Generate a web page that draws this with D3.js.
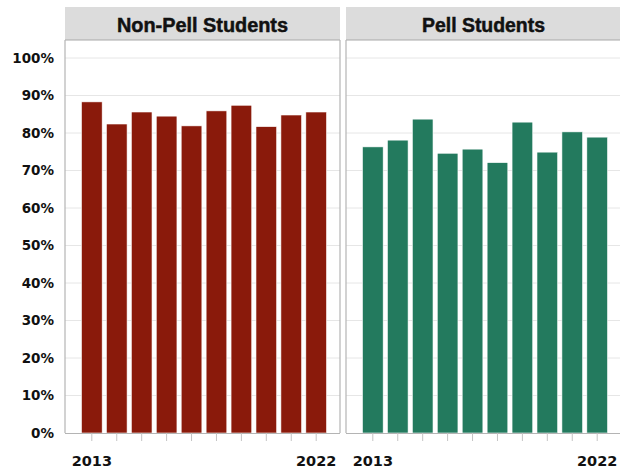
<!DOCTYPE html>
<html><head><meta charset="utf-8">
<script src="https://cdn.jsdelivr.net/npm/d3@7"></script>
<style>body{margin:0;background:#fff}</style>
</head><body>
<svg id="c" width="620" height="471"></svg>
<script>
const years = ["2013","2014","2015","2016","2017","2018","2019","2020","2021","2022"];
const panels = ["Non-Pell Students","Pell Students"];
const nonPell = [0.883,0.824,0.856,0.845,0.819,0.859,0.874,0.817,0.848,0.856];
const pell = [0.763,0.781,0.837,0.746,0.757,0.721,0.829,0.749,0.803,0.789];
const yTicks = [0,0.1,0.2,0.3,0.4,0.5,0.6,0.7,0.8,0.9,1.0];
const xLabels = ["2013","2022"];
const colors = ["#8a1a0b","#237a5e"];

(function(){
const svg = d3.select("#c");
const plotTop = 40, plotBottom = 433, headTop = 7;
const panelX = [65, 346], panelW = 275;
const y = d3.scaleLinear().domain([0,1]).range([plotBottom, plotBottom-375]);

[nonPell, pell].forEach((vals, i) => {
  const x0 = panelX[i];
  const g = svg.append("g");
  const x = d3.scaleBand().domain(years).range([x0+4, x0+274]).paddingInner(0.17).paddingOuter(0.5);
  g.append("rect").attr("x", x0).attr("y", headTop).attr("width", panelW).attr("height", plotTop-headTop)
    .attr("fill", "#dcdcdc");
  g.append("line").attr("x1", x0).attr("x2", x0+panelW).attr("y1", plotTop).attr("y2", plotTop)
    .attr("stroke", "#a8a8a8").attr("stroke-width", 1.2);
  g.append("text").attr("x", x0+panelW/2).attr("y", 32).attr("text-anchor","middle")
    .attr("font-family","Liberation Sans, Arial").attr("font-weight","bold")
    .attr("font-size", 20).attr("fill","#111").attr("stroke","#111").attr("stroke-width",0.5)
    .attr("textLength", i===0?171:123).attr("lengthAdjust","spacingAndGlyphs")
    .text(panels[i]);
  g.selectAll(".grid").data(yTicks.slice(1)).join("line")
    .attr("x1", x0).attr("x2", x0+panelW).attr("y1", d=>y(d)).attr("y2", d=>y(d))
    .attr("stroke", "#e6e6e6").attr("stroke-width", 1);
  g.selectAll(".bar").data(vals).join("rect")
    .attr("x", (d,j)=>x(years[j])).attr("width", x.bandwidth())
    .attr("y", d=>y(d)).attr("height", d=>y(0)-y(d))
    .attr("fill", colors[i]).attr("stroke", "#fff").attr("stroke-width", 0.6);
  g.append("line").attr("x1", x0).attr("x2", x0).attr("y1", plotTop).attr("y2", plotBottom).attr("stroke","#b4b4b4").attr("stroke-width",1.2);
  g.append("line").attr("x1", x0+panelW).attr("x2", x0+panelW).attr("y1", plotTop).attr("y2", plotBottom).attr("stroke","#b4b4b4").attr("stroke-width",1.2);
  const ax = d3.axisBottom(x).tickSize(8).tickFormat(d => xLabels.includes(d) ? d : "");
  const axg = g.append("g").attr("transform", `translate(0,${plotBottom})`).call(ax);
  axg.select(".domain").attr("d", `M${x0},0.5H${x0+panelW}`).attr("stroke","#b4b4b4").attr("stroke-width",1.2);
  axg.selectAll(".tick line").attr("stroke","#c4c4c4");
  axg.selectAll(".tick text").attr("dy", 0).attr("y", 33)
    .attr("font-family","DejaVu Sans").attr("font-weight","bold").attr("font-size", 14.5).attr("fill","#111");
});

const yax = d3.axisLeft(y).tickValues(yTicks).tickSize(0).tickPadding(0).tickFormat(d3.format(".0%"));
const yg = svg.append("g").attr("transform", "translate(54,0)").call(yax);
yg.select(".domain").remove();
yg.selectAll(".tick text").attr("font-family","DejaVu Sans").attr("font-weight","bold").attr("font-size", 13.5).attr("fill","#111").attr("x", 0);
})();
</script>
</body></html>
